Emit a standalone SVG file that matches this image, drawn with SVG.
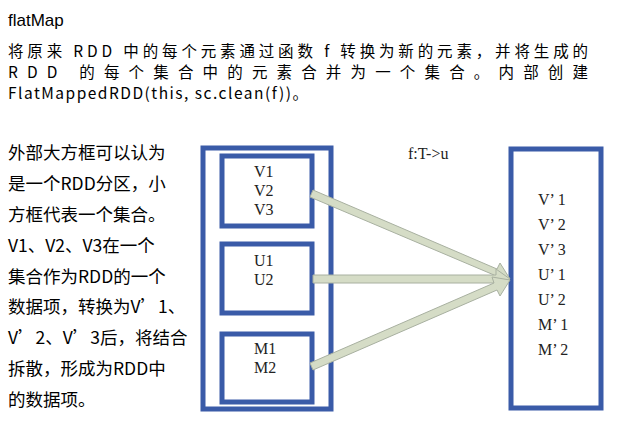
<svg xmlns="http://www.w3.org/2000/svg" width="620" height="431" viewBox="0 0 620 431">
<style>
.b{fill:#fff;stroke:#3a5ba8;stroke-width:5}
.t{font-family:"Liberation Serif",serif;font-size:16px;fill:#222}
.c{font-family:"Noto Sans CJK SC",sans-serif;font-size:15.5px;fill:#000}
.d{font-family:"Noto Sans CJK SC",sans-serif;font-size:17.5px;fill:#000}
.a{fill:#d5dcc6;stroke:#a8b0a0;stroke-width:1}
</style>
<rect width="620" height="431" fill="#fff"/>
<text x="8" y="26" font-family="Liberation Sans,sans-serif" font-size="17" fill="#000">flatMap</text>
<text class="c" x="8" y="57" textLength="580" lengthAdjust="spacing">将原来 RDD 中的每个元素通过函数 f 转换为新的元素，并将生成的</text>
<text class="c" x="8" y="78" textLength="580" lengthAdjust="spacing">RDD 的每个集合中的元素合并为一个集合。内部创建</text>
<text class="c" x="8" y="99" textLength="300" lengthAdjust="spacing">FlatMappedRDD(this, sc.clean(f))。</text>
<g id="desc" class="d">
<text x="8" y="159">外部大方框可以认为</text>
<text x="8" y="190">是一个RDD分区，小</text>
<text x="8" y="221">方框代表一个集合。</text>
<text x="8" y="252">V1、V2、V3在一个</text>
<text x="8" y="283">集合作为RDD的一个</text>
<text x="8" y="313">数据项，转换为V’1、</text>
<text x="8" y="344">V’2、V’3后，将结合</text>
<text x="8" y="375">拆散，形成为RDD中</text>
<text x="8" y="406">的数据项。</text>
</g>
<g id="outer"><rect class="b" x="203" y="148" width="128" height="261"/></g>
<g id="setV"><rect class="b" x="222" y="156" width="90" height="70"/>
<text class="t" x="254" y="177">V1</text><text class="t" x="254" y="196">V2</text><text class="t" x="254" y="215">V3</text></g>
<g id="setU"><rect class="b" x="222" y="244" width="90" height="69"/>
<text class="t" x="254" y="266">U1</text><text class="t" x="254" y="285">U2</text></g>
<g id="setM"><rect class="b" x="222" y="334" width="90" height="68"/>
<text class="t" x="254" y="354">M1</text><text class="t" x="254" y="373">M2</text></g>
<g id="result"><rect class="b" x="511" y="149" width="90" height="259"/>
<g class="t"><text x="538" y="205">V’ 1</text><text x="538" y="230">V’ 2</text><text x="538" y="255">V’ 3</text><text x="538" y="280">U’ 1</text><text x="538" y="305">U’ 2</text><text x="538" y="330">M’ 1</text><text x="538" y="355">M’ 2</text></g></g>
<text class="t" x="408" y="159">f:T-&gt;u</text>
<g id="connectors">
<polygon class="a" points="313,190 497,269 500,263 510,279 492,281 494,275 310,197"/>
<polygon class="a" points="313,275 496,275 496,269 510,279 496,289 496,283 313,283"/>
<polygon class="a" points="310,363 494,283 492,277 510,280 500,296 497,290 313,370"/>
</g>
</svg>
